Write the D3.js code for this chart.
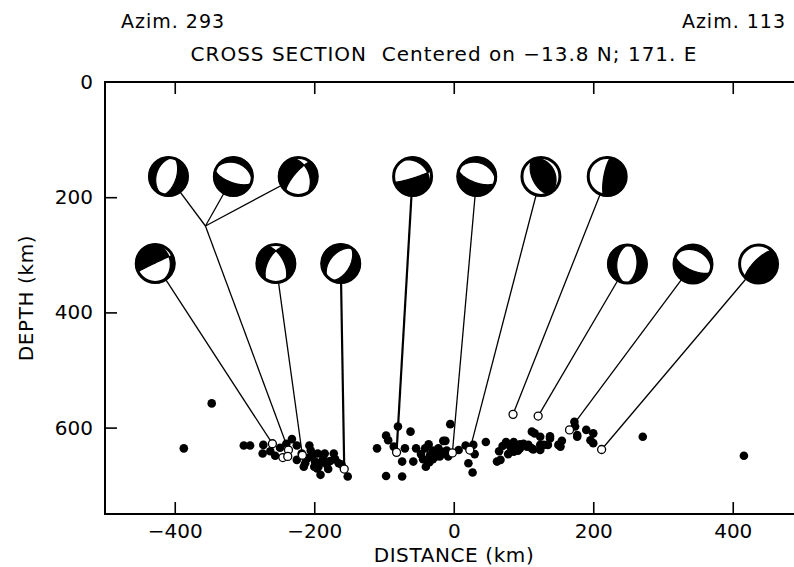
<!DOCTYPE html>
<html>
<head>
<meta charset="utf-8">
<script src="https://cdn.jsdelivr.net/npm/d3@7"></script>
<style>
  body { margin: 0; background: #fff; }
  text { font-family: "DejaVu Sans", sans-serif; fill: #000; white-space: pre; }
</style>
</head>
<body>
<div id="chart"></div>
<script>
// axis ticks
const xTicks = [-400, -200, 0, 200, 400]
const depthTicks = [0, 200, 400, 600]

// earthquakes (solid dots): distance along section (km), depth (km)
const quakeX = [-347, -387, -301, -292, -273, -274, -263, -256, -249, -240, -232, -225, -207,
  -225, -213, -210, -203, -199, -195, -194, -187, -182, -177, -172, -191, -196, -165, -161, -152,
  -218, -205, -190, -185, -180, -170, -215, -200,
  -110, -97, -94, -80, -62, -86, -70, -74, -58, -54, -47, -41, -36, -34, -30, -27, -25, -22, -17,
  -15, -10, -40, -97, -74, -5, -12, -16, -44, -30, -20, -35, -8,
  7, 17, 28, 30, 21, 27, 46, 65, 62, 67, 75, 81, 78, 86, 70, 85, 92, 100,
  86, 95, 95, 105, 112, 112, 116, 107, 124, 129, 138, 138, 114, 124, 124, 135, 150, 155, 153,
  173, 174, 177, 177, 190, 200, 196, 200, 271, 416]
const quakeDepth = [558, 636, 631, 631, 630, 645, 641, 649, 635, 628, 620, 631, 631,
  656, 662, 653, 650, 659, 645, 668, 653, 664, 658, 645, 682, 671, 662, 664, 685,
  645, 640, 660, 645, 672, 655, 668, 668,
  636, 614, 622, 598, 607, 633, 636, 659, 659, 636, 646, 636, 629, 648, 640, 642, 650, 636, 645,
  623, 640, 668, 684, 685, 594, 623, 642, 655, 655, 650, 660, 650,
  639, 631, 630, 646, 662, 678, 625, 641, 659, 656, 625, 633, 646, 625, 632, 633, 640, 628,
  642, 636, 629, 633, 607, 636, 610, 630, 616, 630, 615, 619, 638, 639, 630, 630, 630, 623, 633,
  590, 598, 613, 616, 604, 610, 622, 627, 616, 649]

// events with a plotted focal mechanism (open circles)
const openX = [-260, -237, -245, -238, -217, -157, -82, -2, 23, 85, 121, 166, 212]
const openDepth = [628, 639, 652, 650, 648, 672, 643, 644, 639, 577, 580, 604, 638]

// focal mechanism balls: where they are drawn (km, depth) and which event they belong to
const mechX = [-409, -316, -223, -59, 33, 125, 220, -428, -255, -162, 249, 343, 437]
const mechDepth = [164, 164, 164, 164, 164, 164, 164, 315, 315, 315, 316, 316, 316]
const mechLink = ["J", "J", "J", 6, 7, 8, 9, 0, 4, 5, 10, 11, 12]
const junctionX = -356
const junctionDepth = 250
const junctionLink = 1

// P and T axes of each mechanism, as positions on the lower-hemisphere projection (unit radius)
const pAxis = [[-0.11, -0.04], [0.07, -0.19], [0.05, 0.5], [-0.35, -0.35], [0.07, -0.19],
  [-0.8, 0.38], [-0.65, -0.1], [0.0, 0.55], [0, 0.45], [-0.08, 0.05], [-0.03, 0], [0.08, -0.18], [-0.5, -0.5]]
const tAxis = [[0.86, 0.27], [-0.29, 0.8], [-0.85, -0.3], [-0.1, 0.55], [-0.29, 0.8],
  [0.13, -0.06], [0.45, 0.1], [-0.45, -0.4], [1, 0], [0.72, 0.54], [0.98, 0.08], [-0.36, 0.77], [0.35, 0.35]]
// relative size of the P eigenvalue (1 = pure double couple)
const pWeight = 0.8

const width = 794
const height = 567
const R = 20

const svg = d3.select("#chart").append("svg")
  .attr("width", width)
  .attr("height", height)

const x = d3.scaleLinear().domain([-500, 500]).range([105, 802.5])
const y = d3.scaleLinear().domain([0, 750]).range([82, 514])

/* axes */
const bottomAxis = svg.append("g")
  .attr("transform", `translate(0,${y(750)})`)
  .call(d3.axisBottom(x).tickValues(xTicks).tickSize(-12).tickPadding(10))
const topAxis = svg.append("g")
  .attr("transform", `translate(0,${y(0)})`)
  .call(d3.axisTop(x).tickValues(xTicks).tickSize(-12).tickFormat(""))
const leftAxis = svg.append("g")
  .attr("transform", `translate(${x(-500)},0)`)
  .call(d3.axisLeft(y).tickValues(depthTicks).tickSize(-12).tickPadding(12))

for (const g of [bottomAxis, topAxis, leftAxis]) {
  g.select(".domain").remove()
  g.selectAll("line").attr("stroke", "#000").attr("stroke-width", 1.6)
  g.selectAll("text").attr("font-family", "DejaVu Sans").attr("font-size", 20).attr("fill", "#000")
}
leftAxis.selectAll(".tick").filter(d => d === 0).select("line").remove()

svg.append("rect")
  .attr("x", x(-500)).attr("y", y(0))
  .attr("width", x(500) - x(-500)).attr("height", y(750) - y(0))
  .attr("fill", "none").attr("stroke", "#000").attr("stroke-width", 2)

/* titles */
svg.append("text").attr("x", 121).attr("y", 28).attr("font-size", 19).attr("letter-spacing", 1).text("Azim. 293")
svg.append("text").attr("x", 786).attr("y", 28).attr("font-size", 19).attr("letter-spacing", 1)
  .attr("text-anchor", "end").text("Azim. 113")
svg.append("text").attr("x", 444).attr("y", 61).attr("font-size", 20).attr("letter-spacing", 1)
  .attr("text-anchor", "middle")
  .text("CROSS SECTION  Centered on \u221213.8 N; 171. E")
svg.append("text").attr("x", 454).attr("y", 562).attr("font-size", 20).attr("letter-spacing", 0.6)
  .attr("text-anchor", "middle").text("DISTANCE (km)")
svg.append("text").attr("transform", "translate(33,298) rotate(-90)").attr("font-size", 20)
  .attr("letter-spacing", 0.6).attr("text-anchor", "middle").text("DEPTH (km)")

/* earthquakes */
svg.append("g").selectAll("circle")
  .data(quakeX.map((d, i) => [d, quakeDepth[i]]))
  .enter().append("circle")
  .attr("cx", d => x(d[0])).attr("cy", d => y(d[1])).attr("r", 4.3)
  .attr("fill", "#000")

/* connector lines */
const links = []
mechX.forEach((mx, i) => {
  const to = mechLink[i] === "J" ? [junctionX, junctionDepth] : [openX[mechLink[i]], openDepth[mechLink[i]]]
  links.push({ from: [mx, mechDepth[i]], to, w: (i === 3 || i === 9) ? 2.2 : 1.3 })
})
links.push({ from: [junctionX, junctionDepth], to: [openX[junctionLink], openDepth[junctionLink]], w: 1.3 })

svg.append("g").selectAll("line")
  .data(links).enter().append("line")
  .attr("x1", d => x(d.from[0])).attr("y1", d => y(d.from[1]))
  .attr("x2", d => x(d.to[0])).attr("y2", d => y(d.to[1]))
  .attr("stroke", "#000").attr("stroke-width", d => d.w)

svg.append("g").selectAll("circle")
  .data(openX.map((d, i) => [d, openDepth[i]]))
  .enter().append("circle")
  .attr("cx", d => x(d[0])).attr("cy", d => y(d[1])).attr("r", 4)
  .attr("fill", "#fff").attr("stroke", "#000").attr("stroke-width", 1.3)

/* beachballs */
function toVec(p) {
  const r = Math.min(Math.hypot(p[0], p[1]), 1)
  const th = 2 * Math.asin(r / Math.SQRT2)
  const s = r > 1e-9 ? Math.sin(th) / r : Math.SQRT2
  return [p[0] * s, -p[1] * s, Math.cos(th)]
}
const dot = (a, b) => a[0] * b[0] + a[1] * b[1] + a[2] * b[2]
const norm = a => { const l = Math.sqrt(dot(a, a)); return a.map(v => v / l) }

const n = 72
const ext = 1.04
const contours = d3.contours().size([n, n]).thresholds([0])
const proj = d3.geoIdentity().scale(2 * ext * R / n).translate([-ext * R, -ext * R])
const ballPath = d3.geoPath(proj)

const defs = svg.append("defs")
defs.append("clipPath").attr("id", "ballclip").append("circle").attr("r", R)

const balls = svg.append("g").selectAll("g")
  .data(mechX.map((d, i) => i))
  .enter().append("g")
  .attr("transform", i => `translate(${x(mechX[i])},${y(mechDepth[i])})`)

balls.append("circle").attr("r", R).attr("fill", "#fff")
balls.append("path")
  .attr("clip-path", "url(#ballclip)")
  .attr("fill", "#000")
  .attr("stroke", "#000").attr("stroke-width", 1.2).attr("stroke-linejoin", "round")
  .attr("d", i => {
    const P = norm(toVec(pAxis[i]))
    let T = toVec(tAxis[i])
    const k = dot(T, P)
    T = norm(T.map((v, j) => v - k * P[j]))
    const values = new Float64Array(n * n)
    for (let row = 0; row < n; row++) {
      for (let col = 0; col < n; col++) {
        const px = ((col + 0.5) / n * 2 - 1) * ext
        const py = ((row + 0.5) / n * 2 - 1) * ext
        const v = toVec([px, py])
        values[row * n + col] = dot(v, T) ** 2 - pWeight * dot(v, P) ** 2
      }
    }
    return ballPath(contours(values)[0])
  })
balls.append("circle").attr("r", R - 1).attr("fill", "none").attr("stroke", "#000").attr("stroke-width", 3)
</script>
</body>
</html>
